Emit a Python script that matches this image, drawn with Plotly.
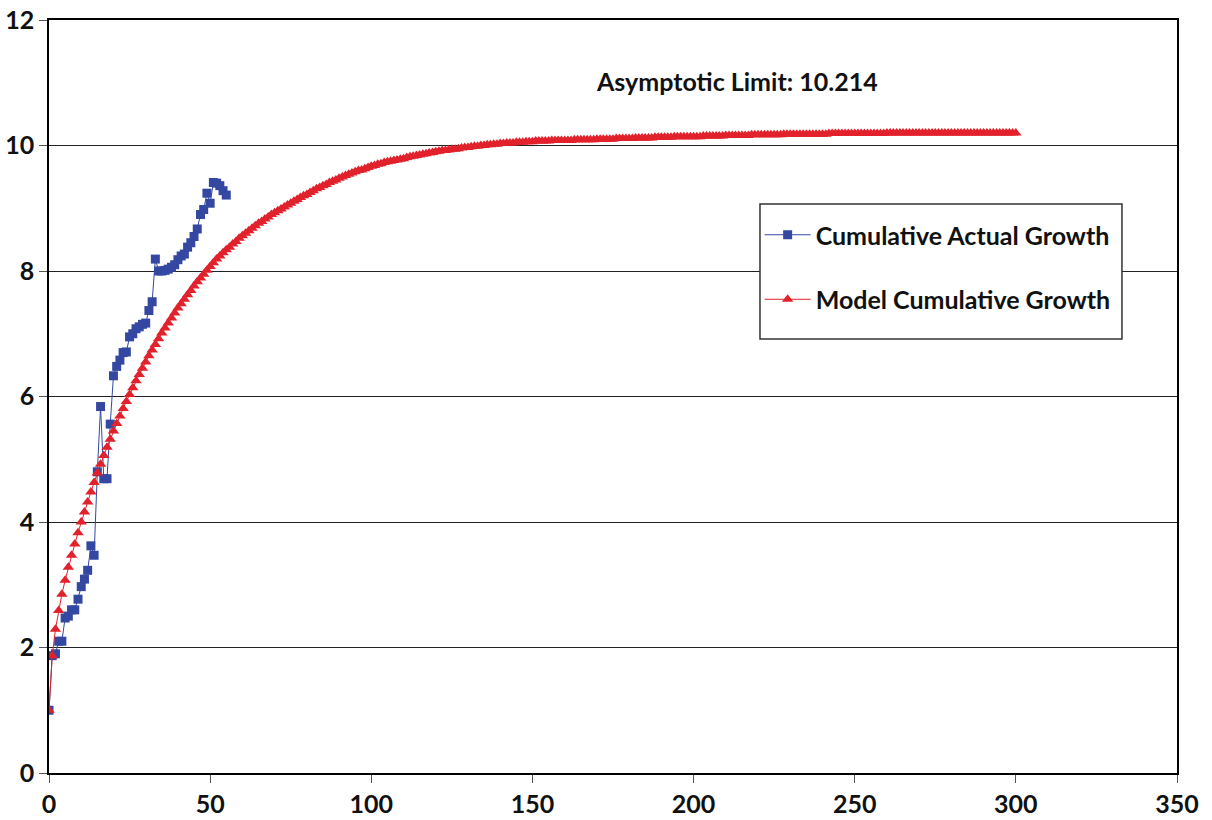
import plotly.graph_objects as go

# Cumulative actual growth (blue squares), one point per period 0..55
actual_x = list(range(0, 56))
actual_y = [1.00, 1.87, 1.90, 2.10, 2.10, 2.47, 2.50, 2.60, 2.60, 2.77,
            2.97, 3.09, 3.23, 3.62, 3.47, 4.80, 5.84, 4.69, 4.69, 5.56,
            6.33, 6.48, 6.58, 6.70, 6.71, 6.95, 7.00, 7.08, 7.11, 7.15,
            7.17, 7.37, 7.51, 8.19, 8.00, 8.00, 8.01, 8.03, 8.06, 8.10,
            8.18, 8.24, 8.27, 8.38, 8.45, 8.55, 8.67, 8.90, 8.98, 9.24,
            9.08, 9.41, 9.40, 9.36, 9.28, 9.21]

# Model cumulative growth (red triangles), one point per period 0..300
model_x = list(range(0, 301))
model_y = [
    1.00, 1.87, 2.29, 2.59, 2.85, 3.07, 3.28, 3.47, 3.65, 3.83,
    4.00, 4.16, 4.32, 4.48, 4.63, 4.78, 4.92, 5.06, 5.19, 5.32,
    5.45, 5.57, 5.69, 5.81, 5.92, 6.03, 6.14, 6.25, 6.35, 6.45,
    6.55, 6.65, 6.74, 6.83, 6.92, 7.01, 7.09, 7.17, 7.25, 7.33,
    7.41, 7.48, 7.55, 7.62, 7.69, 7.76, 7.83, 7.89, 7.95, 8.01,
    8.07, 8.13, 8.19, 8.24, 8.29, 8.34, 8.38, 8.43, 8.47, 8.52,
    8.56, 8.60, 8.64, 8.68, 8.72, 8.76, 8.79, 8.83, 8.86, 8.90,
    8.93, 8.96, 8.99, 9.02, 9.05, 9.08, 9.11, 9.14, 9.17, 9.20,
    9.22, 9.25, 9.28, 9.31, 9.33, 9.36, 9.38, 9.41, 9.43, 9.45,
    9.48, 9.50, 9.52, 9.54, 9.56, 9.58, 9.60, 9.61, 9.63, 9.65,
    9.67, 9.68, 9.70, 9.71, 9.73, 9.74, 9.75, 9.76, 9.77, 9.78,
    9.79, 9.81, 9.82, 9.83, 9.84, 9.85, 9.86, 9.87, 9.88, 9.89,
    9.90, 9.91, 9.92, 9.92, 9.93, 9.94, 9.94, 9.95, 9.96, 9.97,
    9.97, 9.98, 9.99, 9.99, 10.00, 10.00, 10.01, 10.01, 10.02, 10.02,
    10.03, 10.03, 10.04, 10.04, 10.04, 10.05, 10.05, 10.05, 10.06, 10.06,
    10.06, 10.07, 10.07, 10.07, 10.07, 10.07, 10.08, 10.08, 10.08, 10.08,
    10.08, 10.08, 10.08, 10.09, 10.09, 10.09, 10.09, 10.09, 10.09, 10.09,
    10.10, 10.10, 10.10, 10.10, 10.10, 10.10, 10.11, 10.11, 10.11, 10.11,
    10.11, 10.11, 10.12, 10.12, 10.12, 10.12, 10.12, 10.12, 10.13, 10.13,
    10.13, 10.13, 10.13, 10.13, 10.14, 10.14, 10.14, 10.14, 10.14, 10.14,
    10.14, 10.14, 10.14, 10.15, 10.15, 10.15, 10.15, 10.15, 10.15, 10.15,
    10.16, 10.16, 10.16, 10.16, 10.16, 10.16, 10.16, 10.16, 10.17, 10.17,
    10.17, 10.17, 10.17, 10.17, 10.17, 10.17, 10.17, 10.17, 10.18, 10.18,
    10.18, 10.18, 10.18, 10.18, 10.18, 10.18, 10.18, 10.18, 10.18, 10.18,
    10.18, 10.18, 10.19, 10.19, 10.19, 10.19, 10.19, 10.19, 10.19, 10.19,
    10.19, 10.19, 10.19, 10.19, 10.19, 10.19, 10.19, 10.19, 10.19, 10.19,
    10.20, 10.20, 10.20, 10.20, 10.20, 10.20, 10.20, 10.20, 10.20, 10.20,
    10.20, 10.20, 10.20, 10.20, 10.20, 10.20, 10.20, 10.20, 10.20, 10.20,
    10.20, 10.20, 10.20, 10.20, 10.20, 10.20, 10.20, 10.20, 10.20, 10.20,
    10.20, 10.20, 10.20, 10.20, 10.20, 10.20, 10.20, 10.20, 10.20, 10.20,
    10.20,
]

x_ticks = [0, 50, 100, 150, 200, 250, 300, 350]
y_ticks = [0, 2, 4, 6, 8, 10, 12]
annotation_text = "Asymptotic Limit: 10.214"

BLUE = "#3448A2"
RED = "#E1212B"
FONT = "Lato"

fig = go.Figure()
fig.add_trace(go.Scatter(
    x=actual_x, y=actual_y, mode="lines+markers",
    name="Cumulative Actual Growth", legendgroup="a",
    line=dict(color=BLUE, width=1),
    marker=dict(symbol="square", size=9, color=BLUE, line=dict(width=0)),
))
fig.add_trace(go.Scatter(
    x=model_x, y=model_y, mode="lines+markers",
    name="Model Cumulative Growth", legendgroup="b",
    line=dict(color=RED, width=1),
    marker=dict(symbol="triangle-up", size=10, color=RED, line=dict(width=0)),
))

fig.add_annotation(
    x=213.5, y=11.03, xref="x", yref="y", text=annotation_text,
    showarrow=False, font=dict(family=FONT, size=25, color="#111", weight="bold"),
)

# legend frame
fig.add_shape(
    type="rect", xref="paper", yref="paper",
    x0=0.6303, x1=0.9512, y0=0.5764, y1=0.7556,
    fillcolor="white", line=dict(color="#333", width=1.5), layer="above",
)

fig.update_layout(
    width=1212, height=820,
    margin=dict(l=49, r=35, t=20, b=47, autoexpand=False),
    paper_bgcolor="white", plot_bgcolor="white",
    showlegend=True,
    legend=dict(
        x=0.630, y=0.745, xanchor="left", yanchor="top",
        bgcolor="rgba(0,0,0,0)", borderwidth=0,
        font=dict(family=FONT, size=25, color="#111", weight="bold"),
        tracegroupgap=29, itemwidth=46,
    ),
    xaxis=dict(
        range=[0, 350], tickvals=x_ticks, ticks="outside", ticklen=8,
        tickcolor="#555", showgrid=False, zeroline=False, automargin=False,
        showline=True, linecolor="#000", linewidth=1.5, mirror=True,
        ticklabeloverflow="allow",
        tickfont=dict(family=FONT, size=25, color="#111", weight="bold"),
    ),
    yaxis=dict(
        range=[0, 12], tickvals=y_ticks, ticks="outside", ticklen=8,
        tickcolor="#555", showgrid=True, gridcolor="#222", gridwidth=1,
        zeroline=False, showline=True, linecolor="#000", linewidth=1.5,
        mirror=True, automargin=False, ticklabeloverflow="allow",
        tickfont=dict(family=FONT, size=25, color="#111", weight="bold"),
    ),
)

fig.write_html(
    "out.html",
    config={"displayModeBar": False},
    post_script="document.body.style.margin='0';document.body.style.overflow='hidden';",
)
